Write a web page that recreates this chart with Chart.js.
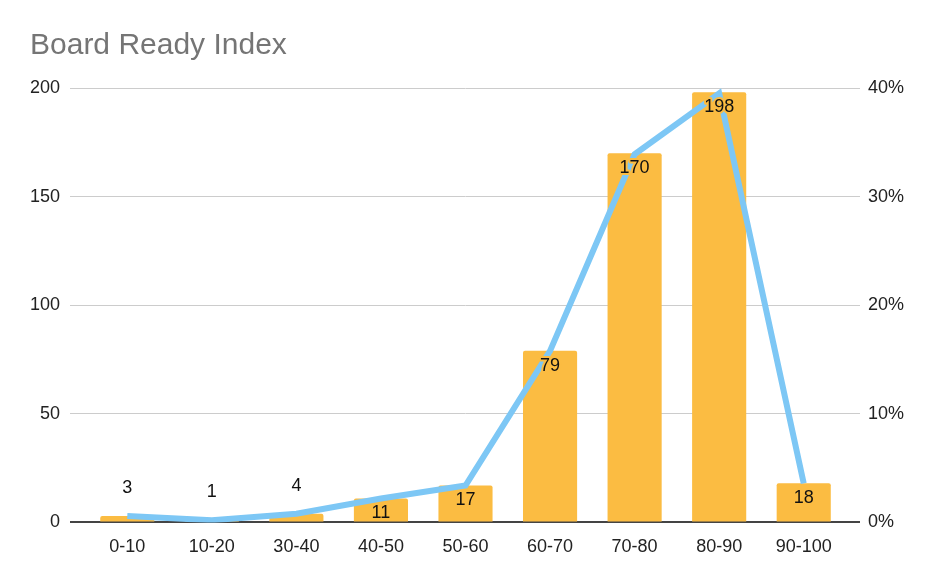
<!DOCTYPE html>
<html>
<head>
<meta charset="utf-8">
<script src="https://cdn.jsdelivr.net/npm/chart.js@4.4.0/dist/chart.umd.min.js"></script>
<style>
  html, body { margin: 0; padding: 0; background: #fff; }
  #wrap { width: 936px; height: 580px; }
</style>
</head>
<body>
<div id="wrap"><canvas id="board_chart" width="936" height="580"></canvas></div>
<script>
var categories = ["0-10", "10-20", "30-40", "40-50", "50-60", "60-70", "70-80", "80-90", "90-100"];
var counts = [3, 1, 4, 11, 17, 79, 170, 198, 18];
var shares = [0.6, 0.2, 0.8, 2.2, 3.4, 15.8, 33.9, 39.5, 3.6];
var leftTicks = [0, 50, 100, 150, 200];
var rightTicks = [0, 10, 20, 30, 40];

var barColor = "#FBBC42";
var lineColor = "#7DC7F5";
var fontFamily = "'Liberation Sans', Arial, Helvetica, sans-serif";

// bar value labels: inside the top of the bar when it fits, otherwise above
var barLabels = {
    id: "barLabels",
    afterDatasetsDraw: function (chart) {
        var ctx = chart.ctx;
        var meta = chart.getDatasetMeta(0);
        ctx.save();
        ctx.font = "18px " + fontFamily;
        ctx.textAlign = "center";
        ctx.textBaseline = "middle";
        ctx.lineJoin = "round";
        meta.data.forEach(function (bar, i) {
            var h = bar.base - bar.y;
            var inside = h > 16;
            var y = inside ? bar.y + 15 : bar.y - 28;
            if (inside) {
                ctx.strokeStyle = barColor;
                ctx.lineWidth = 4;
                ctx.strokeText(String(counts[i]), bar.x, y);
            }
            ctx.fillStyle = "#111";
            ctx.fillText(String(counts[i]), bar.x, y);
        });
        ctx.restore();
    },
};

function gridColor(c) {
    return c.tick && c.tick.value === 0 ? "#444" : "#cccccc";
}
function gridWidth(c) {
    return c.tick && c.tick.value === 0 ? 2 : 1;
}

new Chart(document.getElementById("board_chart").getContext("2d"), {
    type: "bar",
    data: {
        labels: categories,
        datasets: [
            {
                type: "bar",
                label: "Count",
                data: counts,
                backgroundColor: barColor,
                borderRadius: 2,
                barPercentage: 0.64,
                categoryPercentage: 1,
                yAxisID: "y",
                order: 2,
            },
            {
                type: "line",
                label: "Share",
                data: shares,
                borderColor: lineColor,
                borderWidth: 6,
                pointRadius: 0,
                tension: 0,
                yAxisID: "y1",
                order: 1,
            },
        ],
    },
    options: {
        responsive: false,
        animation: false,
        layout: { padding: { left: 30, right: 30, top: 0, bottom: 16 } },
        plugins: {
            legend: { display: false },
            tooltip: { enabled: false },
            title: {
                display: true,
                text: "Board Ready Index",
                align: "start",
                color: "#757575",
                font: { family: fontFamily, size: 30, weight: "normal" },
                padding: { top: 28, bottom: 24 },
            },
        },
        scales: {
            x: {
                grid: { display: false },
                border: { display: false },
                ticks: { color: "#222", font: { family: fontFamily, size: 18 }, padding: 6 },
            },
            y: {
                position: "left",
                min: 0,
                max: 200,
                afterBuildTicks: function (axis) {
                    axis.ticks = leftTicks.map(function (v) { return { value: v }; });
                },
                afterFit: function (axis) { axis.width = 55; },
                border: { display: false },
                grid: {
                    color: gridColor,
                    lineWidth: gridWidth,
                    tickColor: gridColor,
                    tickLength: 15,
                    drawTicks: true,
                },
                ticks: { color: "#222", font: { family: fontFamily, size: 18 }, padding: 10 },
            },
            y1: {
                position: "right",
                min: 0,
                max: 40,
                afterBuildTicks: function (axis) {
                    axis.ticks = rightTicks.map(function (v) { return { value: v }; });
                },
                afterFit: function (axis) { axis.width = 60; },
                border: { display: false },
                grid: {
                    drawOnChartArea: false,
                    color: gridColor,
                    lineWidth: gridWidth,
                    tickColor: gridColor,
                    tickLength: 14,
                    drawTicks: true,
                },
                ticks: {
                    color: "#222",
                    font: { family: fontFamily, size: 18 },
                    padding: 8,
                    callback: function (v) { return v + "%"; },
                },
            },
        },
    },
    plugins: [barLabels],
});
</script>
</body>
</html>
